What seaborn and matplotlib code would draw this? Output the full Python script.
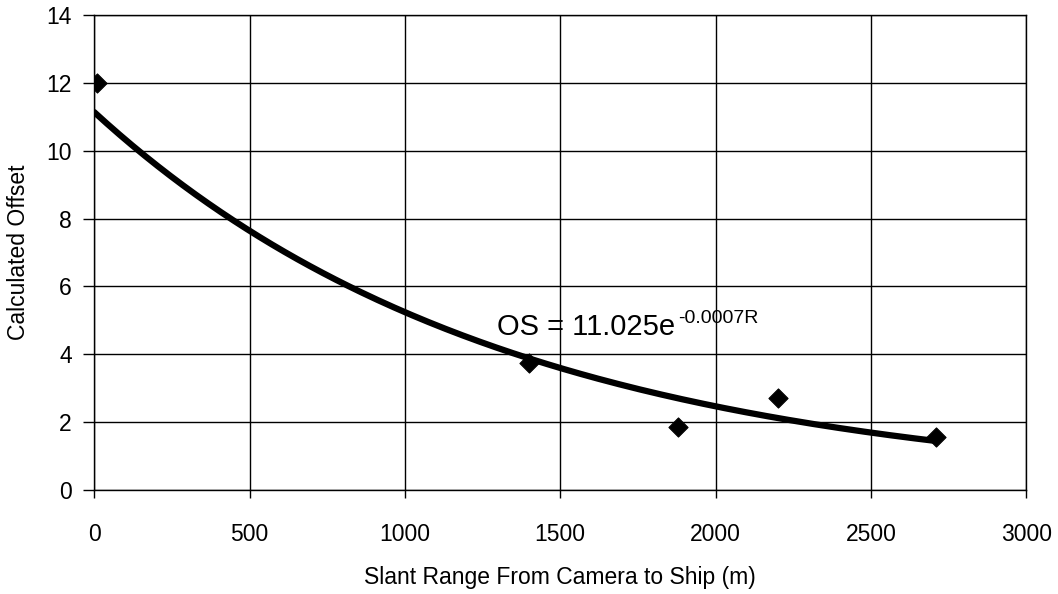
import matplotlib
import matplotlib.pyplot as plt

matplotlib.use("Agg")
import numpy as np
import pandas as pd
import seaborn as sns

# measured points
slant_range = [10, 1400, 1880, 2200, 2710]
offset = [12.0, 3.75, 1.87, 2.72, 1.55]

# trendline spans the measured range
fit_range = [0, 2710]

x_ticks = [0, 500, 1000, 1500, 2000, 2500, 3000]
y_ticks = [0, 2, 4, 6, 8, 10, 12, 14]

sns.set_style("white")
plt.rcParams["font.family"] = ["Liberation Sans", "DejaVu Sans"]
plt.rcParams["text.color"] = "black"
plt.rcParams["axes.labelcolor"] = "black"
plt.rcParams["xtick.color"] = "black"
plt.rcParams["ytick.color"] = "black"

points = pd.DataFrame({"range": slant_range, "offset": offset})

# exponential trendline (log-linear least squares, like a spreadsheet trendline)
fit_b, log_a = np.polyfit(points["range"], np.log(points["offset"]), 1)
r = np.linspace(fit_range[0], fit_range[1], 200)
trend = pd.DataFrame({"range": r, "offset": np.exp(log_a) * np.exp(fit_b * r)})

fig, ax = plt.subplots(figsize=(10.58, 5.94), dpi=100)
fig.subplots_adjust(left=0.089, right=0.970, top=0.975, bottom=0.175)

sns.lineplot(data=trend, x="range", y="offset", color="black", linewidth=4.5, ax=ax, zorder=3)
sns.scatterplot(data=points, x="range", y="offset", marker="D", s=95, color="black",
                edgecolor="black", ax=ax, zorder=4)

ax.set_xlim(0, 3000)
ax.set_ylim(0, 14)
ax.set_xticks(x_ticks)
ax.set_yticks(y_ticks)
ax.grid(True, color="black", linewidth=1.0)
for s in ax.spines.values():
    s.set_color("black")
    s.set_linewidth(1.0)
ax.tick_params(axis="both", bottom=True, left=True, direction="out", width=1.0,
               color="black", labelsize=16.5)
ax.tick_params(axis="y", length=8, pad=8)
ax.tick_params(axis="x", length=6, pad=18)

ax.set_xlabel("Slant Range From Camera to Ship (m)", fontsize=16.5, labelpad=14)
ax.set_ylabel("Calculated Offset", fontsize=16.5, labelpad=12)

eq = ax.text(1297, 4.57, "OS = 11.025e", fontsize=21, ha="left", va="baseline")
ax.annotate("-0.0007R", xy=(1, 1), xycoords=eq, xytext=(2, 2), textcoords="offset points",
            fontsize=14, ha="left", va="top")

fig.savefig("out.png", dpi=100)
